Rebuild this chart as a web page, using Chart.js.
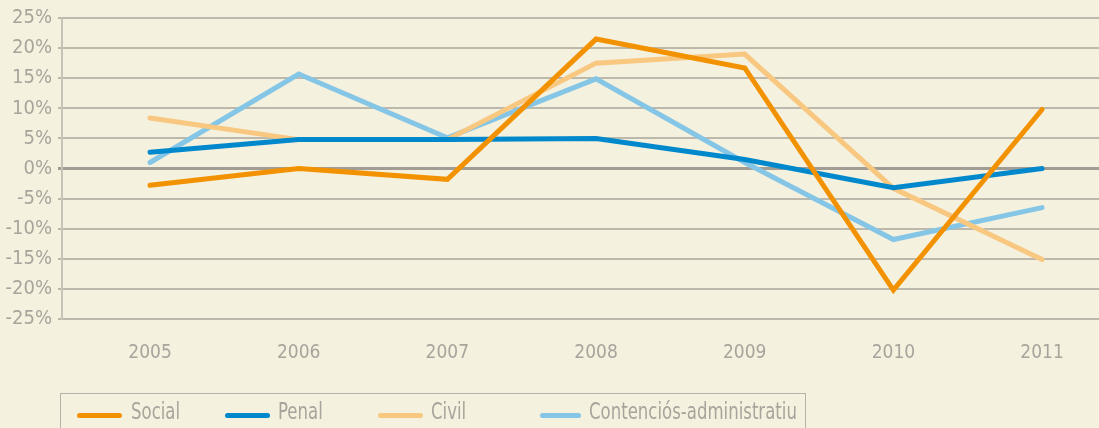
<!DOCTYPE html>
<html>
<head>
<meta charset="utf-8">
<script src="https://cdn.jsdelivr.net/npm/chart.js@4.4.1/dist/chart.umd.min.js"></script>
<style>
  html, body { margin: 0; padding: 0; background: #f5f1df; }
  #wrap { position: relative; width: 1099px; height: 428px; overflow: hidden; }
  #legend {
    position: absolute; left: 60px; top: 393px; width: 746px; height: 60px;
    border: 1px solid #b8b3a8; box-sizing: border-box;
    font-family: "Liberation Sans Narrow", "DejaVu Sans Condensed", sans-serif;
    font-size: 23px; color: #a8a49c;
  }
  .item { position: absolute; top: 4px; height: 30px; white-space: nowrap; }
  .item i { position: absolute; top: 15px; left: 0; height: 5px; border-radius: 3px; }
  .item span { position: absolute; top: 0px; transform: scaleX(0.8); transform-origin: left top; }
</style>
</head>
<body>
<div id="wrap">
  <canvas id="lineChart" width="1099" height="428"></canvas>
  <div id="legend"></div>
</div>
<script>
// data (% change per year)
const years = [2005, 2006, 2007, 2008, 2009, 2010, 2011];
const seriesNames = ["Social", "Penal", "Civil", "Contenciós-administratiu"];
const social = [-2.8, 0.0, -1.8, 21.5, 16.7, -20.2, 9.8];
const penal = [2.7, 4.8, 4.8, 5.0, 1.5, -3.2, 0.0];
const civil = [8.4, 4.8, 4.8, 17.5, 19.0, -3.3, -15.1];
const contencios = [1.0, 15.7, 5.1, 14.9, 1.0, -11.8, -6.5];
const yTicks = [-25, -20, -15, -10, -5, 0, 5, 10, 15, 20, 25];

const colors = ["#f39200", "#0088cc", "#f8c780", "#85c6e7"];
const values = [social, penal, civil, contencios];

const font = "'Liberation Sans Narrow', 'DejaVu Sans Condensed', sans-serif";
const grey = "#a8a49c";

const ctx = document.getElementById("lineChart").getContext("2d");
const chart = new Chart(ctx, {
  type: "line",
  data: {
    datasets: seriesNames.map((name, i) => ({
      label: name,
      data: years.map((y, j) => ({ x: y, y: values[i][j] })),
      borderColor: colors[i],
      backgroundColor: colors[i],
      borderWidth: 5,
      borderJoinStyle: "miter",
      borderCapStyle: "round",
      pointRadius: 0,
      tension: 0,
      fill: false
    }))
  },
  options: {
    responsive: false,
    animation: false,
    layout: { padding: { top: 17, right: 0, bottom: 0, left: 0 } },
    plugins: {
      legend: { display: false },
      tooltip: { enabled: false }
    },
    scales: {
      x: {
        type: "linear",
        min: 2004.408,
        max: 2011.383,
        afterBuildTicks: scale => {
          scale.ticks = years.map(v => ({ value: v }));
        },
        afterFit: scale => { scale.height = 109; },
        grid: { display: false },
        border: { display: false },
        ticks: {
          padding: 15,
          color: grey,
          font: { family: font, size: 19 },
          callback: v => String(v)
        }
      },
      y: {
        min: -25,
        max: 25,
        afterBuildTicks: scale => {
          scale.ticks = yTicks.map(v => ({ value: v }));
        },
        afterFit: scale => { scale.width = 62; },
        border: { display: true, color: "#c7c2b6", width: 2 },
        grid: {
          color: c => (c.tick && c.tick.value === 0 ? "#a19d95" : "#bdb8ac"),
          lineWidth: c => (c.tick && c.tick.value === 0 ? 3 : 2),
          tickLength: 4
        },
        ticks: {
          padding: 6,
          color: grey,
          font: { family: font, size: 20 },
          callback: v => v + "%"
        }
      }
    }
  }
});

// legend in html, built from the same series
const legendPos = [[16, 70], [164, 217], [317, 370], [479, 528]];
const legend = document.getElementById("legend");
seriesNames.forEach((name, i) => {
  const item = document.createElement("div");
  item.className = "item";
  item.style.left = legendPos[i][0] + "px";
  const line = document.createElement("i");
  line.style.width = (i === 3 ? 41 : 45) + "px";
  line.style.background = colors[i];
  const txt = document.createElement("span");
  txt.style.left = (legendPos[i][1] - legendPos[i][0]) + "px";
  txt.textContent = name;
  item.appendChild(line);
  item.appendChild(txt);
  legend.appendChild(item);
});
</script>
</body>
</html>
